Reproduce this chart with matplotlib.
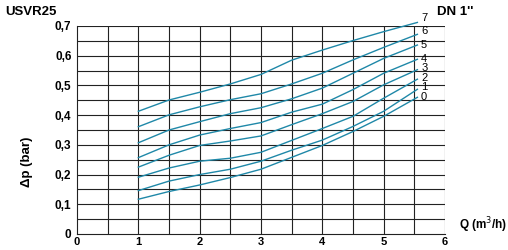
import numpy as np
import matplotlib
matplotlib.use("Agg")
import matplotlib.pyplot as plt

plt.rcParams["font.family"] = ["Liberation Sans", "DejaVu Sans"]

# flow rate (m3/h) where readings were taken
q = [1.0, 1.5, 2.0, 2.5, 3.0, 3.5, 4.0, 4.5, 5.0, 5.55]

# pressure drop (bar) per setting 0..7
dp0 = [0.117, 0.143, 0.165, 0.190, 0.218, 0.258, 0.298, 0.345, 0.396, 0.460]
dp1 = [0.146, 0.178, 0.200, 0.218, 0.245, 0.282, 0.316, 0.362, 0.413, 0.487]
dp2 = [0.191, 0.222, 0.245, 0.255, 0.275, 0.315, 0.355, 0.396, 0.457, 0.521]
dp3 = [0.225, 0.265, 0.298, 0.313, 0.330, 0.368, 0.405, 0.446, 0.502, 0.553]
dp4 = [0.257, 0.300, 0.333, 0.355, 0.375, 0.410, 0.437, 0.486, 0.541, 0.588]
dp5 = [0.307, 0.350, 0.378, 0.405, 0.425, 0.455, 0.491, 0.541, 0.591, 0.636]
dp6 = [0.361, 0.401, 0.428, 0.452, 0.472, 0.505, 0.541, 0.586, 0.628, 0.672]
dp7 = [0.413, 0.451, 0.477, 0.505, 0.537, 0.585, 0.619, 0.651, 0.681, 0.712]
curves = [dp0, dp1, dp2, dp3, dp4, dp5, dp6, dp7]
curve_labels = ["0", "1", "2", "3", "4", "5", "6", "7"]
label_y = [0.462, 0.494, 0.526, 0.558, 0.590, 0.636, 0.683, 0.727]

x_ticks = [0, 1, 2, 3, 4, 5, 6]
y_ticks = [0, 0.1, 0.2, 0.3, 0.4, 0.5, 0.6, 0.7]
y_ticklabels = ["0", "0,1", "0,2", "0,3", "0,4", "0,5", "0,6", "0,7"]

fig = plt.figure(figsize=(5.08, 2.5), dpi=100)
ax = fig.add_axes([77 / 508, 1 - 234 / 250, 368 / 508, 208 / 250])

ax.set_xlim(0, 6)
ax.set_ylim(0, 0.7)

# grid every 0.5 m3/h and 0.05 bar
for gx in np.arange(0.5, 6.01, 0.5):
    ax.axvline(gx, color="#222222", lw=0.8, zorder=1)
for gy in np.arange(0.05, 0.701, 0.05):
    ax.axhline(gy, color="#222222", lw=0.8, zorder=1)

col = "#1f88a8"
for dp in curves:
    ax.plot(q, dp, color=col, lw=1.0, zorder=3, clip_on=False)

for lab, ly in zip(curve_labels, label_y):
    ax.text(5.61, ly, lab, fontsize=8, va="center", ha="left", color="black")

for s in ["top", "right"]:
    ax.spines[s].set_visible(False)
for s in ["left", "bottom"]:
    ax.spines[s].set_color("#222222")
    ax.spines[s].set_linewidth(0.8)

ax.set_xticks(x_ticks)
ax.set_xticklabels([str(v) for v in x_ticks], fontsize=8, fontweight="bold")
ax.set_yticks(y_ticks)
ax.set_yticklabels(y_ticklabels, fontsize=8.5, fontweight="bold")
ax.tick_params(axis="y", length=0, pad=4)
ax.tick_params(axis="x", length=0, pad=2)

fig.text(5 / 508, 1 - 12 / 250, "USVR25", fontsize=9.5, fontweight="bold", va="center", ha="left")
fig.text(437 / 508, 1 - 12 / 250, "DN 1''", fontsize=9.5, fontweight="bold", va="center", ha="left")
fig.text(27 / 508, 1 - 162 / 250, "Δp (bar)", fontsize=9.5, fontweight="bold", va="center", ha="center", rotation=90)
fig.text(459 / 508, 1 - 225 / 250, "Q (m$^3$/h)", fontsize=8.5, fontweight="bold", va="center", ha="left")

fig.savefig("out.png", dpi=100)
